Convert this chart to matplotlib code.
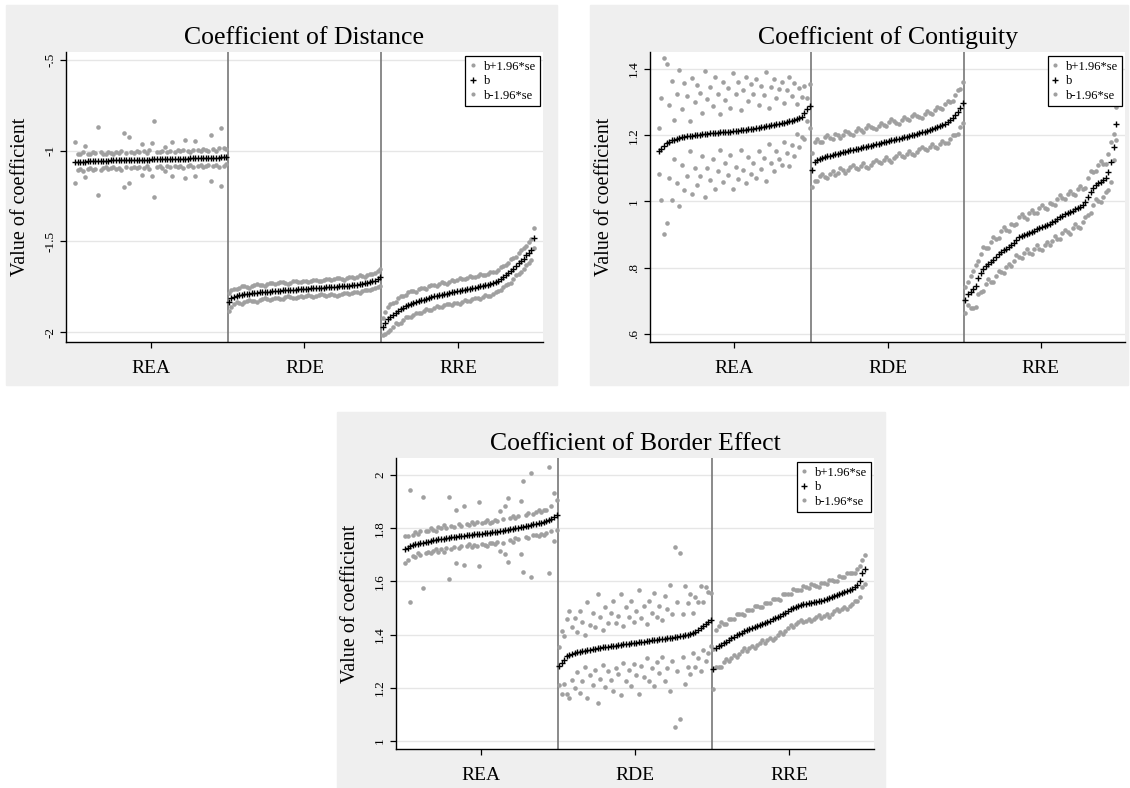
import matplotlib
matplotlib.use("Agg")
import matplotlib.pyplot as plt
from matplotlib.patches import Rectangle
import numpy as np

plt.rcParams["font.family"] = ["Liberation Serif", "DejaVu Serif"]

groups = ["REA", "RDE", "RRE"]

# ---- Coefficient of Distance ----
dist_rea_b = [-1.065, -1.062, -1.061, -1.060, -1.060, -1.059, -1.059, -1.058, -1.058, -1.057,
              -1.056, -1.056, -1.055, -1.055, -1.054, -1.054, -1.053, -1.053, -1.053, -1.052,
              -1.052, -1.051, -1.051, -1.051, -1.050, -1.050, -1.050, -1.049, -1.049, -1.049,
              -1.048, -1.048, -1.048, -1.047, -1.047, -1.047, -1.046, -1.046, -1.046, -1.045,
              -1.045, -1.045, -1.044, -1.044, -1.044, -1.043, -1.043, -1.042, -1.042, -1.042,
              -1.041, -1.041, -1.040, -1.040, -1.039, -1.039, -1.038, -1.037, -1.036, -1.033]
dist_rea_hw = [0.115, 0.045, 0.040, 0.050, 0.085, 0.042, 0.038, 0.048, 0.044, 0.190,
               0.050, 0.040, 0.036, 0.045, 0.042, 0.038, 0.047, 0.040, 0.052, 0.150,
               0.040, 0.125, 0.044, 0.038, 0.046, 0.041, 0.085, 0.045, 0.036, 0.050,
               0.090, 0.210, 0.042, 0.038, 0.047, 0.065, 0.040, 0.044, 0.095, 0.038,
               0.046, 0.042, 0.050, 0.105, 0.040, 0.037, 0.048, 0.095, 0.043, 0.039,
               0.050, 0.044, 0.040, 0.125, 0.046, 0.038, 0.052, 0.160, 0.048, 0.040]
dist_rde_b = [-1.835, -1.815, -1.805, -1.800, -1.797, -1.795, -1.793, -1.791, -1.789, -1.787,
              -1.785, -1.784, -1.782, -1.781, -1.779, -1.778, -1.777, -1.775, -1.774, -1.773,
              -1.772, -1.771, -1.770, -1.769, -1.768, -1.767, -1.766, -1.765, -1.764, -1.763,
              -1.762, -1.761, -1.760, -1.759, -1.758, -1.757, -1.756, -1.755, -1.754, -1.753,
              -1.752, -1.751, -1.750, -1.749, -1.748, -1.747, -1.745, -1.744, -1.742, -1.740,
              -1.738, -1.736, -1.734, -1.731, -1.728, -1.725, -1.721, -1.716, -1.710, -1.698]
dist_rde_hw = [0.050, 0.045, 0.040, 0.036, 0.042, 0.048, 0.044, 0.038, 0.033, 0.040,
               0.046, 0.050, 0.044, 0.039, 0.035, 0.041, 0.047, 0.043, 0.037, 0.042,
               0.048, 0.045, 0.039, 0.034, 0.040, 0.046, 0.049, 0.043, 0.038, 0.044,
               0.041, 0.036, 0.042, 0.047, 0.044, 0.039, 0.035, 0.041, 0.046, 0.043,
               0.038, 0.044, 0.049, 0.045, 0.040, 0.036, 0.042, 0.047, 0.043, 0.039,
               0.044, 0.048, 0.042, 0.037, 0.041, 0.046, 0.043, 0.039, 0.044, 0.048]
dist_rre_b = [-1.970, -1.950, -1.930, -1.915, -1.905, -1.895, -1.885, -1.875, -1.865, -1.858,
              -1.850, -1.845, -1.840, -1.835, -1.830, -1.826, -1.822, -1.818, -1.812, -1.808,
              -1.804, -1.800, -1.797, -1.794, -1.791, -1.788, -1.785, -1.782, -1.779, -1.776,
              -1.773, -1.770, -1.767, -1.764, -1.761, -1.758, -1.755, -1.752, -1.749, -1.746,
              -1.743, -1.739, -1.735, -1.730, -1.724, -1.716, -1.706, -1.696, -1.686, -1.676,
              -1.664, -1.650, -1.636, -1.622, -1.608, -1.595, -1.578, -1.562, -1.545, -1.482]
dist_rre_hw = [0.045, 0.060, 0.068, 0.072, 0.065, 0.058, 0.070, 0.075, 0.066, 0.060,
               0.068, 0.072, 0.064, 0.058, 0.066, 0.070, 0.063, 0.057, 0.064, 0.069,
               0.062, 0.056, 0.063, 0.068, 0.061, 0.055, 0.062, 0.067, 0.060, 0.065,
               0.070, 0.063, 0.058, 0.064, 0.068, 0.061, 0.056, 0.062, 0.067, 0.060,
               0.055, 0.061, 0.066, 0.059, 0.054, 0.060, 0.065, 0.058, 0.053, 0.059,
               0.064, 0.057, 0.052, 0.058, 0.063, 0.056, 0.052, 0.057, 0.060, 0.055]

# ---- Coefficient of Contiguity ----
cont_rea_b = [1.152, 1.158, 1.168, 1.175, 1.180, 1.184, 1.187, 1.190, 1.192, 1.194,
              1.196, 1.197, 1.198, 1.199, 1.200, 1.201, 1.202, 1.203, 1.204, 1.205,
              1.206, 1.207, 1.207, 1.208, 1.209, 1.209, 1.210, 1.211, 1.211, 1.212,
              1.213, 1.214, 1.215, 1.216, 1.217, 1.218, 1.219, 1.220, 1.221, 1.222,
              1.224, 1.225, 1.227, 1.228, 1.230, 1.231, 1.233, 1.234, 1.236, 1.238,
              1.240, 1.242, 1.244, 1.247, 1.250, 1.253, 1.256, 1.268, 1.278, 1.288]
cont_rea_hw = [0.070, 0.155, 0.265, 0.240, 0.110, 0.180, 0.060, 0.135, 0.205, 0.085,
               0.160, 0.120, 0.045, 0.175, 0.100, 0.150, 0.125, 0.065, 0.190, 0.105,
               0.140, 0.080, 0.170, 0.115, 0.055, 0.150, 0.095, 0.130, 0.070, 0.175,
               0.110, 0.145, 0.060, 0.120, 0.160, 0.085, 0.135, 0.105, 0.150, 0.070,
               0.125, 0.095, 0.165, 0.055, 0.115, 0.140, 0.080, 0.105, 0.125, 0.060,
               0.095, 0.135, 0.075, 0.110, 0.045, 0.090, 0.060, 0.080, 0.035, 0.065]
cont_rde_b = [1.095, 1.120, 1.125, 1.128, 1.131, 1.134, 1.136, 1.138, 1.140, 1.142,
              1.144, 1.146, 1.148, 1.150, 1.152, 1.154, 1.155, 1.157, 1.159, 1.161,
              1.163, 1.164, 1.166, 1.168, 1.170, 1.172, 1.174, 1.176, 1.178, 1.180,
              1.182, 1.184, 1.186, 1.188, 1.190, 1.192, 1.194, 1.196, 1.198, 1.200,
              1.202, 1.204, 1.206, 1.209, 1.211, 1.213, 1.216, 1.218, 1.221, 1.224,
              1.227, 1.231, 1.235, 1.240, 1.245, 1.252, 1.260, 1.270, 1.282, 1.298]
cont_rde_hw = [0.050, 0.058, 0.064, 0.052, 0.047, 0.060, 0.066, 0.055, 0.049, 0.061,
               0.057, 0.046, 0.053, 0.063, 0.058, 0.050, 0.045, 0.056, 0.062, 0.054,
               0.048, 0.059, 0.065, 0.057, 0.051, 0.046, 0.055, 0.061, 0.053, 0.047,
               0.058, 0.064, 0.056, 0.050, 0.045, 0.054, 0.060, 0.052, 0.047, 0.057,
               0.063, 0.055, 0.049, 0.044, 0.053, 0.059, 0.051, 0.046, 0.056, 0.062,
               0.054, 0.048, 0.058, 0.064, 0.056, 0.050, 0.060, 0.066, 0.058, 0.062]
cont_rre_b = [0.702, 0.722, 0.728, 0.735, 0.745, 0.770, 0.785, 0.797, 0.805, 0.812,
              0.818, 0.824, 0.832, 0.840, 0.848, 0.853, 0.858, 0.862, 0.868, 0.875,
              0.885, 0.892, 0.896, 0.899, 0.902, 0.905, 0.908, 0.912, 0.916, 0.919,
              0.922, 0.925, 0.928, 0.932, 0.937, 0.942, 0.948, 0.953, 0.957, 0.961,
              0.965, 0.968, 0.972, 0.976, 0.980, 0.984, 0.988, 0.998, 1.015, 1.028,
              1.040, 1.050, 1.056, 1.060, 1.064, 1.070, 1.090, 1.118, 1.165, 1.235]
cont_rre_hw = [0.040, 0.035, 0.048, 0.055, 0.062, 0.050, 0.058, 0.066, 0.054, 0.047,
               0.060, 0.068, 0.056, 0.049, 0.062, 0.070, 0.057, 0.050, 0.063, 0.055,
               0.047, 0.060, 0.067, 0.053, 0.046, 0.059, 0.066, 0.054, 0.048, 0.061,
               0.068, 0.056, 0.049, 0.062, 0.055, 0.047, 0.060, 0.066, 0.053, 0.046,
               0.058, 0.065, 0.052, 0.045, 0.057, 0.064, 0.051, 0.044, 0.056, 0.063,
               0.050, 0.043, 0.055, 0.061, 0.049, 0.042, 0.054, 0.060, 0.040, 0.050]

# ---- Coefficient of Border Effect ----
bord_rea_b = [1.720, 1.727, 1.732, 1.736, 1.739, 1.742, 1.744, 1.746, 1.748, 1.750,
              1.752, 1.754, 1.756, 1.758, 1.760, 1.761, 1.763, 1.764, 1.766, 1.767,
              1.768, 1.770, 1.771, 1.772, 1.774, 1.775, 1.776, 1.777, 1.778, 1.779,
              1.780, 1.781, 1.782, 1.783, 1.784, 1.786, 1.787, 1.789, 1.790, 1.792,
              1.794, 1.796, 1.798, 1.800, 1.802, 1.804, 1.806, 1.808, 1.810, 1.812,
              1.815, 1.817, 1.819, 1.821, 1.823, 1.826, 1.830, 1.836, 1.842, 1.850]
bord_rea_hw = [0.050, 0.045, 0.210, 0.040, 0.048, 0.036, 0.044, 0.170, 0.042, 0.038,
               0.047, 0.041, 0.035, 0.046, 0.040, 0.052, 0.037, 0.155, 0.043, 0.039,
               0.100, 0.045, 0.038, 0.110, 0.042, 0.036, 0.047, 0.040, 0.044, 0.120,
               0.038, 0.043, 0.048, 0.037, 0.041, 0.046, 0.039, 0.075, 0.044, 0.090,
               0.120, 0.042, 0.048, 0.038, 0.044, 0.100, 0.170, 0.041, 0.046, 0.195,
               0.039, 0.044, 0.050, 0.041, 0.047, 0.043, 0.200, 0.046, 0.090, 0.055]
bord_rde_b = [1.282, 1.295, 1.305, 1.318, 1.325, 1.328, 1.331, 1.333, 1.335, 1.337,
              1.339, 1.341, 1.343, 1.345, 1.347, 1.349, 1.350, 1.352, 1.353, 1.355,
              1.356, 1.358, 1.359, 1.361, 1.362, 1.364, 1.365, 1.366, 1.368, 1.369,
              1.370, 1.372, 1.373, 1.374, 1.376, 1.377, 1.378, 1.380, 1.381, 1.382,
              1.384, 1.385, 1.386, 1.388, 1.389, 1.391, 1.392, 1.394, 1.396, 1.398,
              1.400, 1.403, 1.406, 1.410, 1.416, 1.424, 1.432, 1.440, 1.447, 1.456]
bord_rde_hw = [0.070, 0.120, 0.090, 0.140, 0.165, 0.100, 0.130, 0.075, 0.155, 0.110,
               0.060, 0.180, 0.095, 0.135, 0.080, 0.205, 0.115, 0.065, 0.150, 0.090,
               0.125, 0.170, 0.085, 0.110, 0.190, 0.070, 0.140, 0.100, 0.160, 0.080,
               0.120, 0.195, 0.090, 0.135, 0.065, 0.150, 0.105, 0.175, 0.085, 0.125,
               0.070, 0.160, 0.110, 0.200, 0.090, 0.340, 0.130, 0.312, 0.080, 0.185,
               0.120, 0.150, 0.075, 0.130, 0.105, 0.160, 0.090, 0.140, 0.115, 0.100]
bord_rre_b = [1.270, 1.348, 1.356, 1.362, 1.368, 1.374, 1.380, 1.386, 1.392, 1.397,
              1.402, 1.407, 1.412, 1.417, 1.421, 1.425, 1.429, 1.433, 1.437, 1.441,
              1.445, 1.449, 1.453, 1.457, 1.461, 1.466, 1.471, 1.477, 1.483, 1.489,
              1.495, 1.500, 1.504, 1.508, 1.511, 1.514, 1.516, 1.518, 1.520, 1.522,
              1.524, 1.526, 1.528, 1.531, 1.534, 1.537, 1.541, 1.545, 1.549, 1.553,
              1.557, 1.561, 1.565, 1.569, 1.573, 1.578, 1.585, 1.600, 1.630, 1.645]
bord_rre_hw = [0.075, 0.070, 0.078, 0.085, 0.072, 0.065, 0.080, 0.074, 0.068, 0.082,
               0.076, 0.069, 0.063, 0.077, 0.071, 0.066, 0.079, 0.073, 0.067, 0.061,
               0.075, 0.069, 0.064, 0.078, 0.072, 0.066, 0.060, 0.074, 0.068, 0.063,
               0.057, 0.071, 0.065, 0.060, 0.055, 0.068, 0.063, 0.058, 0.070, 0.064,
               0.059, 0.054, 0.067, 0.062, 0.057, 0.069, 0.063, 0.058, 0.053, 0.066,
               0.061, 0.056, 0.068, 0.062, 0.057, 0.052, 0.060, 0.058, 0.050, 0.055]

GRAY = "#a0a0a0"
BG = "#efefef"


def draw_panel(ax, title, segs, ylim, yticks, yticklabels):
    b = np.concatenate([np.asarray(s[0]) for s in segs])
    hw = np.concatenate([np.asarray(s[1]) for s in segs])
    n = len(segs[0][0])
    x = np.arange(1, len(b) + 1)

    for yt in yticks:
        ax.axhline(yt, color="#e6e6e6", lw=1.0, zorder=0)
    for k in (1, 2):
        ax.axvline(k * n + 0.5, color="#777777", lw=1.2, zorder=1)

    ax.plot(x, b + hw, ls="none", marker="o", ms=3.3, mec="none", mfc=GRAY,
            label="b+1.96*se", zorder=2)
    ax.plot(x, b, ls="none", marker="+", ms=5.0, mew=1.0, color="black",
            label="b", zorder=3)
    ax.plot(x, b - hw, ls="none", marker="o", ms=3.3, mec="none", mfc=GRAY,
            label="b-1.96*se", zorder=2)

    ax.set_xlim(-2.5, 3 * n + 3.5)
    ax.set_ylim(*ylim)
    ax.set_xticks([n / 2 + 0.5 + k * n for k in range(3)])
    ax.set_xticklabels(groups, fontsize=14)
    ax.set_yticks(yticks)
    ax.set_yticklabels(yticklabels, fontsize=9.5, rotation=90, va="center")
    ax.tick_params(axis="both", direction="out", length=4, width=0.9, color="black")
    ax.tick_params(axis="x", pad=9)
    ax.tick_params(axis="y", pad=3)
    for side in ("top", "right"):
        ax.spines[side].set_visible(False)
    for side in ("left", "bottom"):
        ax.spines[side].set_linewidth(1.0)
    ax.set_title(title, fontsize=18.5, pad=6)
    ax.set_ylabel("Value of coefficient", fontsize=14.5)
    ax.yaxis.set_label_coords(-0.076, 0.5)

    leg = ax.legend(loc="upper right", bbox_to_anchor=(0.994, 0.985), fontsize=9,
                    frameon=True, fancybox=False, framealpha=1, edgecolor="black",
                    handlelength=0.5, handletextpad=0.6, borderpad=0.35,
                    labelspacing=0.2, borderaxespad=0.0, markerscale=0.9)
    leg.get_frame().set_linewidth(0.9)


fig = plt.figure(figsize=(11.3, 7.88), dpi=100)
for rect in [(0.0053, 0.5114, 0.4876, 0.4822),
             (0.5221, 0.5114, 0.4761, 0.4822),
             (0.2982, 0.0, 0.4850, 0.4772)]:
    fig.patches.append(Rectangle(rect[:2], rect[2], rect[3], transform=fig.transFigure,
                                 color=BG, zorder=-10))

ax1 = fig.add_axes([0.0584, 0.566, 0.4221, 0.368])
draw_panel(ax1, "Coefficient of Distance",
           [(dist_rea_b, dist_rea_hw), (dist_rde_b, dist_rde_hw), (dist_rre_b, dist_rre_hw)],
           (-2.055, -0.456), [-0.5, -1, -1.5, -2], ["-.5", "-1", "-1.5", "-2"])

ax2 = fig.add_axes([0.5752, 0.566, 0.4204, 0.368])
draw_panel(ax2, "Coefficient of Contiguity",
           [(cont_rea_b, cont_rea_hw), (cont_rde_b, cont_rde_hw), (cont_rre_b, cont_rre_hw)],
           (0.576, 1.451), [0.6, 0.8, 1.0, 1.2, 1.4], [".6", ".8", "1", "1.2", "1.4"])

ax3 = fig.add_axes([0.3504, 0.0495, 0.4231, 0.3693])
draw_panel(ax3, "Coefficient of Border Effect",
           [(bord_rea_b, bord_rea_hw), (bord_rde_b, bord_rde_hw), (bord_rre_b, bord_rre_hw)],
           (0.97, 2.064), [1.0, 1.2, 1.4, 1.6, 1.8, 2.0], ["1", "1.2", "1.4", "1.6", "1.8", "2"])

fig.savefig("out.png", dpi=100, facecolor="white")
